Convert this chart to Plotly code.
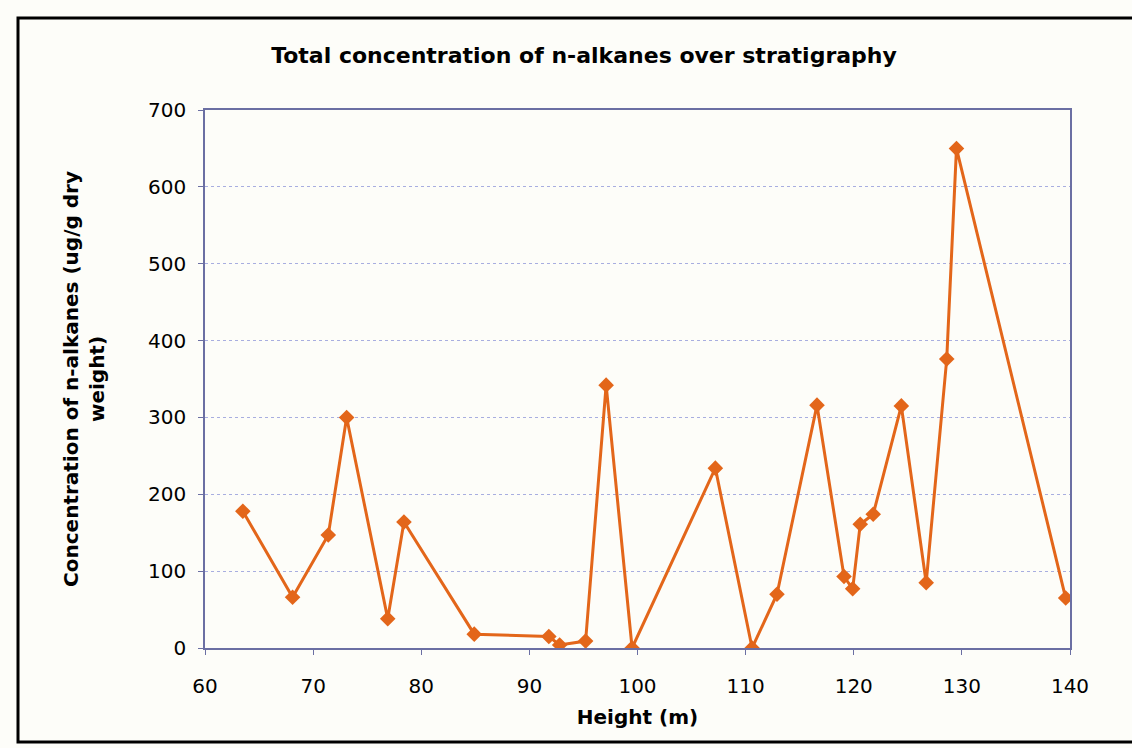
import plotly.graph_objects as go

height_m = [63.5, 68.1, 71.4, 73.1, 76.9, 78.4, 84.9, 91.8, 92.8, 95.2, 97.1, 99.5,
            107.2, 110.6, 112.9, 116.6, 119.1, 119.9, 120.6, 121.8, 124.4, 126.7,
            128.6, 129.5, 139.6]
concentration = [178, 66, 147, 300, 38, 164, 18, 15, 4, 9, 342, 0,
                 234, 0, 70, 316, 93, 77, 161, 174, 315, 85,
                 376, 650, 65]
x_ticks = [60, 70, 80, 90, 100, 110, 120, 130, 140]
y_ticks = [0, 100, 200, 300, 400, 500, 600, 700]

line_color = "#e3661a"
frame_color = "#6b6fa3"
grid_color = "#a8aee0"

fig = go.Figure()
fig.add_trace(go.Scatter(
    x=height_m, y=concentration, mode="lines+markers",
    line=dict(color=line_color, width=3),
    marker=dict(symbol="diamond", size=12, color=line_color),
    showlegend=False,
))

L, R, T, B = 205, 62, 110, 100
W, H = 1132, 748
pw, ph = W - L - R, H - T - B

def px(xpix):
    return (xpix - L) / pw

def py(ypix):
    return (H - B - ypix) / ph

fig.update_layout(
    width=W, height=H,
    margin=dict(l=L, r=R, t=T, b=B),
    paper_bgcolor="#fdfdf9",
    plot_bgcolor="#fdfdf9",
    font=dict(family="DejaVu Sans", color="black", size=20),
    title=dict(text="<b>Total concentration of n-alkanes over stratigraphy</b>",
               x=(258 + 910) / 2 / W, xanchor="center", y=1 - 55 / H, yanchor="middle",
               font=dict(size=22)),
    xaxis=dict(range=[60, 140], tickvals=x_ticks, showgrid=False, zeroline=False,
               showline=True, linecolor=frame_color, linewidth=1.5, mirror=True,
               ticks="outside", ticklen=5, tickcolor=frame_color,
               ticklabelstandoff=14, tickfont=dict(size=20),
               title=dict(text="<b>Height (m)</b>", font=dict(size=20), standoff=13)),
    yaxis=dict(range=[0, 700], tickvals=y_ticks, showgrid=True, gridcolor=grid_color,
               griddash="dot", gridwidth=1, zeroline=False,
               showline=True, linecolor=frame_color, linewidth=1.5, mirror=True,
               ticks="outside", ticklen=5, tickcolor=frame_color,
               ticklabelstandoff=8, tickfont=dict(size=20),
               title=dict(text="<b>Concentration of n-alkanes (ug/g dry<br>weight)</b>",
                          font=dict(size=20), standoff=38)),
    shapes=[dict(type="rect", xref="paper", yref="paper",
                 x0=px(18), x1=px(1145), y0=py(742), y1=py(18),
                 line=dict(color="black", width=3), layer="below")],
)

fig.write_html("out.html")
